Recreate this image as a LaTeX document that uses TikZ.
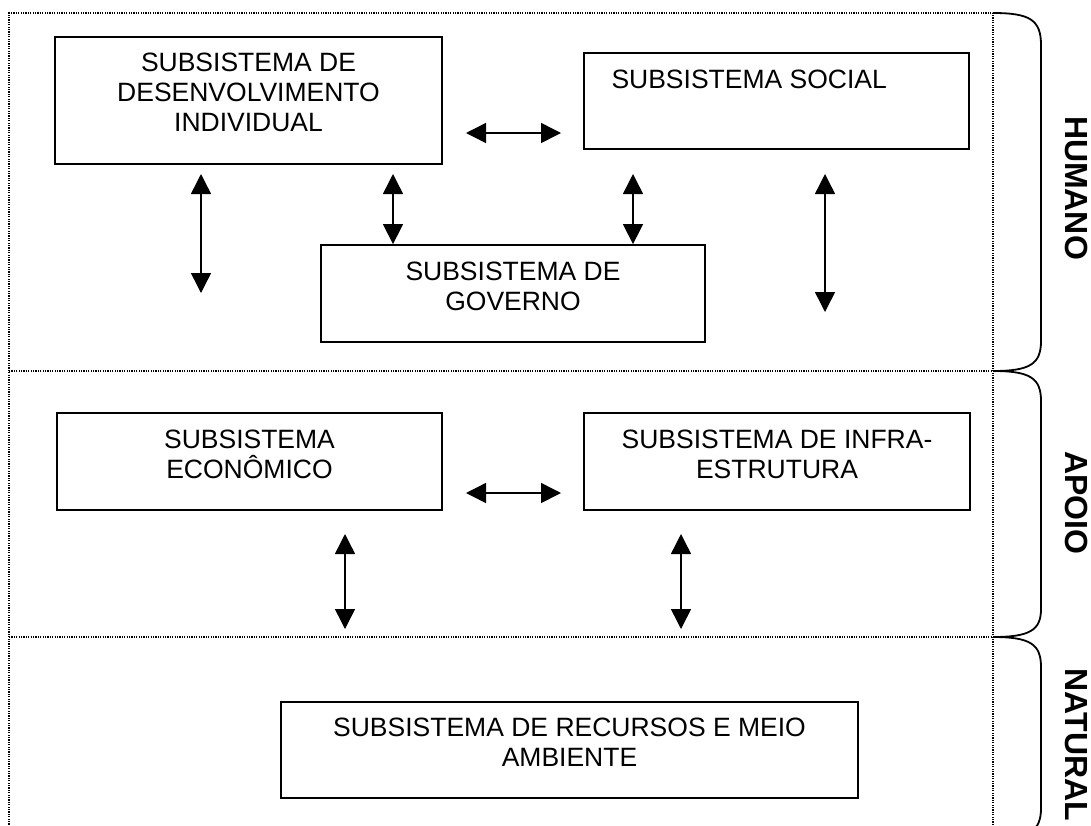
\documentclass[tikz,border=0pt]{standalone}
\usepackage{fontspec}
\setmainfont{Liberation Sans}
\usetikzlibrary{arrows.meta,positioning}

\begin{document}
\begin{tikzpicture}[x=0.5pt,y=-0.5pt,
		sub/.style={draw,line width=0.9pt,inner sep=0pt},
		txt/.style={align=center,inner sep=0pt,font=\fontsize{13.25}{15}\selectfont},
		twoway/.style={{Triangle[length=10pt,width=10pt]}-{Triangle[length=10pt,width=10pt]},line width=0.75pt},
		sep/.style={line width=0.6pt,dash pattern=on 0.6pt off 0.6pt},
		brack/.style={line width=0.9pt},
		lvl/.style={rotate=-90,inner sep=0pt,font=\fontsize{16}{19}\selectfont\bfseries}]
			\useasboundingbox (0,0) rectangle (1091,825);
			% faixas
			\draw[sep] (993,825) -- (993,13) -- (9,13) -- (9,825);
			\draw[sep] (9,371) -- (993,371);
			\draw[sep] (9,637) -- (993,637);
			% chaves
			\draw[brack] (993,13) .. controls (1030,13) and (1041,20) .. (1041,45) -- (1041,341) .. controls (1041,364) and (1030,371) .. (993,371);
			\draw[brack] (993,371) .. controls (1030,371) and (1041,378) .. (1041,401) -- (1041,609) .. controls (1041,630) and (1030,637) .. (993,637);
			\draw[brack] (993,637) .. controls (1030,637) and (1041,644) .. (1041,667) -- (1041,808) .. controls (1041,831) and (1030,838) .. (993,838);
			\node[lvl] (humano) at (1076,188) {HUMANO};
			\node[lvl] (apoio) at (1076,503) {APOIO};
			\node[lvl] (natural) at (1076,745) {NATURAL};
			% subsistemas
			\node[sub, minimum width=193.5pt, minimum height=63.5pt] (sub_ind) at (248.5,100.5) {};
			\node[sub, minimum width=192.5pt, minimum height=48pt] (sub_soc) at (776.5,101) {};
			\node[sub, minimum width=192pt, minimum height=48.5pt] (sub_gov) at (513,293.5) {};
			\node[sub, minimum width=192.5pt, minimum height=48.5pt] (sub_eco) at (249.5,461.5) {};
			\node[sub, minimum width=193pt, minimum height=48.5pt] (sub_inf) at (777,461.5) {};
			\node[sub, minimum width=288.5pt, minimum height=48pt] (sub_nat) at (569.5,750) {};
			\node[txt, below=8.25pt of sub_ind.north] (t_ind) {SUBSISTEMA DE\\DESENVOLVIMENTO\\INDIVIDUAL};
			\node[txt, anchor=north west, below right=8.75pt and 14pt of sub_soc.north west] (t_soc) {SUBSISTEMA SOCIAL};
			\node[txt, below=8.75pt of sub_gov.north] (t_gov) {SUBSISTEMA DE\\GOVERNO};
			\node[txt, below=8.75pt of sub_eco.north] (t_eco) {SUBSISTEMA\\ECONÔMICO};
			\node[txt, below=8.75pt of sub_inf.north] (t_inf) {SUBSISTEMA DE INFRA-\\ESTRUTURA};
			\node[txt, below=8.25pt of sub_nat.north] (t_nat) {SUBSISTEMA DE RECURSOS E MEIO\\AMBIENTE};
			% setas
			\coordinate (h_1) at (466,133);
			\coordinate (h_2) at (561,133);
			\coordinate (h_3) at (466,493);
			\coordinate (h_4) at (561,493);
			\coordinate (v_1) at (201,174);
			\coordinate (v_2) at (393,174);
			\coordinate (v_3) at (633,174);
			\coordinate (v_4) at (825,174);
			\coordinate (v_5) at (345,534);
			\coordinate (v_6) at (681,534);
			\draw[twoway] (h_1) -- (h_2);
			\draw[twoway] (h_3) -- (h_4);
			\draw[twoway] (v_1) -- ++(0,119);
			\draw[twoway] (v_2) -- (v_2 |- sub_gov.north);
			\draw[twoway] (v_3) -- (v_3 |- sub_gov.north);
			\draw[twoway] (v_4) -- ++(0,138);
			\draw[twoway] (v_5) -- ++(0,95);
			\draw[twoway] (v_6) -- ++(0,95);
		\end{tikzpicture}
\end{document}
